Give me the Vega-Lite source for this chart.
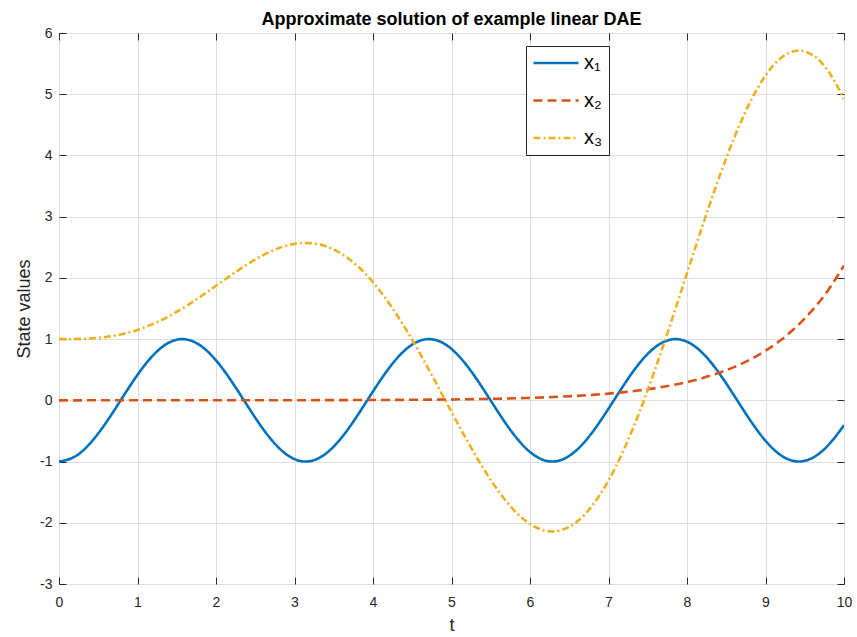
{
  "$schema": "https://vega.github.io/schema/vega-lite/v6.json",
  "width": 785,
  "height": 551,
  "autosize": {"type": "none"},
  "padding": {"left": 59, "top": 33, "right": 13, "bottom": 53},
  "background": "white",
  "title": {"text": "Approximate solution of example linear DAE", "font": "Liberation Sans", "fontSize": 18, "fontWeight": "bold", "color": "#000000", "offset": -3, "anchor": "middle"},
  "data": {"values": [
    {"t": 0, "x1": -1, "x2": 0.0001, "x3": 1},
    {"t": 0.2, "x1": -0.9211, "x2": 0.00012, "x3": 1.0013},
    {"t": 0.4, "x1": -0.6967, "x2": 0.00015, "x3": 1.0105},
    {"t": 0.6, "x1": -0.3624, "x2": 0.00018, "x3": 1.0347},
    {"t": 0.8, "x1": 0.0292, "x2": 0.00022, "x3": 1.08},
    {"t": 1.0, "x1": 0.4161, "x2": 0.00027, "x3": 1.1506},
    {"t": 1.2, "x1": 0.7374, "x2": 0.00033, "x3": 1.2486},
    {"t": 1.4, "x1": 0.9422, "x2": 0.00041, "x3": 1.3737},
    {"t": 1.6, "x1": 0.9983, "x2": 0.0005, "x3": 1.5231},
    {"t": 1.8, "x1": 0.8968, "x2": 0.0006, "x3": 1.6914},
    {"t": 2.0, "x1": 0.6536, "x2": 0.00074, "x3": 1.8708},
    {"t": 2.2, "x1": 0.3073, "x2": 0.0009, "x3": 2.0516},
    {"t": 2.4, "x1": -0.0875, "x2": 0.0011, "x3": 2.2226},
    {"t": 2.6, "x1": -0.4685, "x2": 0.00135, "x3": 2.3717},
    {"t": 2.8, "x1": -0.7756, "x2": 0.00164, "x3": 2.4866},
    {"t": 3.0, "x1": -0.9602, "x2": 0.002, "x3": 2.5555},
    {"t": 3.2, "x1": -0.9932, "x2": 0.00245, "x3": 2.5681},
    {"t": 3.4, "x1": -0.8694, "x2": 0.003, "x3": 2.5158},
    {"t": 3.6, "x1": -0.6084, "x2": 0.00366, "x3": 2.3929},
    {"t": 3.8, "x1": -0.2513, "x2": 0.00447, "x3": 2.1969},
    {"t": 4.0, "x1": 0.1455, "x2": 0.00546, "x3": 1.9289},
    {"t": 4.2, "x1": 0.5193, "x2": 0.00667, "x3": 1.5938},
    {"t": 4.4, "x1": 0.8111, "x2": 0.00815, "x3": 1.2003},
    {"t": 4.6, "x1": 0.9748, "x2": 0.00995, "x3": 0.7611},
    {"t": 4.8, "x1": 0.9847, "x2": 0.01215, "x3": 0.2919},
    {"t": 5.0, "x1": 0.8391, "x2": 0.01484, "x3": -0.1886},
    {"t": 5.2, "x1": 0.561, "x2": 0.01813, "x3": -0.6599},
    {"t": 5.4, "x1": 0.1943, "x2": 0.02214, "x3": -1.1},
    {"t": 5.6, "x1": -0.203, "x2": 0.02704, "x3": -1.4872},
    {"t": 5.8, "x1": -0.5683, "x2": 0.03303, "x3": -1.8003},
    {"t": 6.0, "x1": -0.8439, "x2": 0.04034, "x3": -2.0202},
    {"t": 6.2, "x1": -0.9862, "x2": 0.04927, "x3": -2.1308},
    {"t": 6.4, "x1": -0.9728, "x2": 0.06018, "x3": -2.1199},
    {"t": 6.6, "x1": -0.8059, "x2": 0.07351, "x3": -1.98},
    {"t": 6.8, "x1": -0.5117, "x2": 0.08978, "x3": -1.7089},
    {"t": 7.0, "x1": -0.1367, "x2": 0.10966, "x3": -1.3102},
    {"t": 7.2, "x1": 0.2598, "x2": 0.13394, "x3": -0.7932},
    {"t": 7.4, "x1": 0.6154, "x2": 0.1636, "x3": -0.1733},
    {"t": 7.6, "x1": 0.8738, "x2": 0.19982, "x3": 0.5292},
    {"t": 7.8, "x1": 0.9942, "x2": 0.24406, "x3": 1.2888},
    {"t": 8.0, "x1": 0.9577, "x2": 0.2981, "x3": 2.0767},
    {"t": 8.2, "x1": 0.77, "x2": 0.3641, "x3": 2.8609},
    {"t": 8.4, "x1": 0.4607, "x2": 0.44471, "x3": 3.6083},
    {"t": 8.6, "x1": 0.0787, "x2": 0.54317, "x3": 4.2857},
    {"t": 8.8, "x1": -0.3157, "x2": 0.66342, "x3": 4.8613},
    {"t": 9.0, "x1": -0.6603, "x2": 0.81031, "x3": 5.3061},
    {"t": 9.2, "x1": -0.9006, "x2": 0.98971, "x3": 5.5957},
    {"t": 9.4, "x1": -0.9988, "x2": 1.2088, "x3": 5.7109},
    {"t": 9.6, "x1": -0.9392, "x2": 1.4765, "x3": 5.6393},
    {"t": 9.8, "x1": -0.7314, "x2": 1.8034, "x3": 5.3759},
    {"t": 10, "x1": -0.4081, "x2": 2.2026, "x3": 4.9233}
  ]},
  "transform": [{"fold": ["x1", "x2", "x3"], "as": ["series", "value"]}],
  "layer": [
    {
      "mark": {"type": "line", "strokeWidth": 2.6, "interpolate": "natural", "clip": true},
      "encoding": {
        "x": {"field": "t", "type": "quantitative", "title": "t",
          "scale": {"domain": [0, 10], "nice": false},
          "axis": {"orient": "bottom", "values": [0,1,2,3,4,5,6,7,8,9,10], "tickSize": -7, "labelPadding": 18, "titlePadding": 7, "labelFlush": false, "labelExpr": "'' + datum.value"}},
        "y": {"field": "value", "type": "quantitative", "title": "State values",
          "scale": {"domain": [-3, 6], "nice": false, "zero": false},
          "axis": {"orient": "left", "values": [-3,-2,-1,0,1,2,3,4,5,6], "tickSize": -7, "labelPadding": 14, "titlePadding": 6, "labelFlush": false, "labelExpr": "'' + datum.value"}},
        "color": {"field": "series", "type": "nominal",
          "scale": {"domain": ["x1", "x2", "x3"], "range": ["#0072BD", "#D95319", "#EDB120"]},
          "legend": {"labelExpr": "replace(replace(replace(datum.label,'1','\u2081'),'2','\u2082'),'3','\u2083')"}},
        "strokeDash": {"field": "series", "type": "nominal",
          "scale": {"domain": ["x1", "x2", "x3"], "range": [[1, 0], [9, 5], [7, 3, 2, 3]]},
          "legend": {"labelExpr": "replace(replace(replace(datum.label,'1','\u2081'),'2','\u2082'),'3','\u2083')"}}
      }
    },
    {
      "mark": {"type": "point", "opacity": 0},
      "encoding": {
        "x": {"field": "t", "type": "quantitative", "title": null,
          "scale": {"domain": [0, 10], "nice": false},
          "axis": {"orient": "top", "values": [0,1,2,3,4,5,6,7,8,9,10], "tickSize": -7, "labels": false, "grid": false}},
        "y": {"field": "value", "type": "quantitative", "title": null,
          "scale": {"domain": [-3, 6], "nice": false, "zero": false},
          "axis": {"orient": "right", "values": [-3,-2,-1,0,1,2,3,4,5,6], "tickSize": -7, "labels": false, "grid": false}}
      }
    }
  ],
  "resolve": {"axis": {"x": "independent", "y": "independent"}},
  "config": {
    "view": {"stroke": "#262626", "strokeWidth": 1},
    "axis": {
      "domain": false, "grid": true, "gridColor": "#dedede", "gridWidth": 1,
      "tickColor": "#262626", "tickWidth": 1,
      "labelFont": "Liberation Sans", "labelFontSize": 14, "labelColor": "#262626",
      "titleFont": "Liberation Sans", "titleFontSize": 18, "titleFontWeight": "normal", "titleColor": "#262626"
    },
    "legend": {
      "orient": "none", "legendX": 467, "legendY": 13, "title": null,
      "fillColor": "white", "strokeColor": "#262626", "padding": 6,
      "symbolType": "stroke", "symbolSize": 2025, "symbolStrokeWidth": 2.5,
      "clipHeight": 22,
      "labelFont": "Liberation Sans", "labelFontSize": 20, "labelColor": "#000000",
      "rowPadding": 15.5, "labelOffset": 4
    }
  }
}
